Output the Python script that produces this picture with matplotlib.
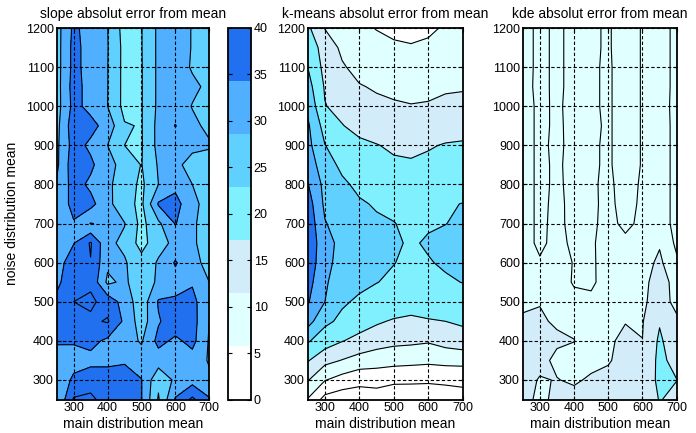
import numpy as np
import matplotlib
matplotlib.use("Agg")
import matplotlib.pyplot as plt
from matplotlib.colors import ListedColormap, Normalize
import matplotlib.colorbar as mcolorbar

plt.rcParams['font.family'] = ['Liberation Sans', 'DejaVu Sans']

# ---------------- data ----------------
main_mean = [250, 300, 350, 400, 450, 500, 550, 600, 650, 700]
noise_mean = list(range(1200, 249, -50))   # rows below are listed top (1200) to bottom (250)

slope_err = [
    [28, 36, 33, 30.1, 23, 24.8, 31, 32, 29.8, 28],
    [28, 36.5, 33, 30.2, 23.5, 24.8, 31, 32, 29.8, 28.5],
    [28, 36.5, 33, 30.1, 23.5, 24.7, 31, 32.5, 29.5, 28.5],
    [28, 37, 33, 30.1, 23.5, 24.7, 31, 33, 31, 29],
    [28, 36.5, 33.5, 30, 23.5, 24.7, 31, 32.5, 29.8, 28.5],
    [28.5, 38, 36.6, 33.1, 25.4, 24.7, 31.5, 35.2, 31, 29],
    [29, 37, 34, 30, 25, 24.6, 31.5, 32, 31, 30.5],
    [29, 38, 36, 31.5, 28.4, 24.8, 30.5, 31, 28.5, 28],
    [30.5, 37, 34, 31, 27.5, 24, 30, 33.5, 30, 28],
    [30.5, 37, 36.5, 31.5, 26.5, 24, 35.5, 37, 31, 28.5],
    [31, 34.5, 29.8, 31, 30.2, 23.5, 29, 35.3, 30.5, 28.5],
    [32, 34.8, 40.5, 31, 29, 23, 28.5, 31, 30.5, 28.5],
    [33, 37.5, 39.8, 31, 30.5, 27, 30.5, 35.5, 31, 29],
    [34, 38, 39, 29, 31, 26.5, 31, 33, 34.5, 30],
    [36, 40, 41, 38, 33, 27, 35.5, 35.8, 36.5, 31],
    [37, 38.5, 39, 40.5, 34, 27.5, 34.5, 38, 37, 30],
    [35.5, 35.5, 36.5, 34, 32, 29.5, 36.5, 34, 36.5, 29.5],
    [33, 33, 33.5, 33.5, 34.5, 32, 32.5, 33.5, 33, 29.5],
    [31, 36, 38, 38, 37, 35.2, 26, 31, 33, 31],
    [30, 40.5, 41, 38, 37, 35.2, 24.5, 35.5, 41, 35.5],
]

kmeans_err = [
    [21, 14.8, 12.5, 11, 9.8, 8.5, 8, 9.2, 10.5, 11],
    [23, 18, 14, 12.5, 11.5, 11, 10.5, 10.8, 12, 12.5],
    [25, 18.5, 15.5, 13.5, 12.5, 12, 11.5, 11.8, 12.8, 13.2],
    [27, 19.5, 17, 15.3, 14.5, 14, 13.5, 13.5, 14.3, 14.5],
    [29, 20.2, 18.5, 17, 16, 15.5, 15.2, 15.5, 16.2, 16.5],
    [30.8, 23, 20.2, 18.5, 17.5, 17, 16.8, 17, 17.8, 18],
    [31.5, 25.1, 22.5, 21, 20.2, 19.2, 19, 19.6, 20.3, 20.6],
    [33, 27, 24, 22.5, 21.5, 20.8, 20.5, 21, 21.8, 22],
    [35.3, 28.5, 25.8, 24, 23, 22.3, 22, 22.3, 23, 23.3],
    [37.5, 29, 26.8, 25.5, 24.6, 24.2, 23.8, 24, 24.6, 25.1],
    [38.5, 30.3, 27.8, 26.5, 25.6, 25.1, 24.3, 24.5, 24.9, 26],
    [39, 31.5, 28.8, 27.5, 26.5, 25.6, 24.5, 25.5, 26.5, 27.3],
    [38.5, 31.2, 28.5, 27, 25.8, 25.1, 24.2, 24.7, 25.6, 26.4],
    [37, 30.6, 27.5, 26, 25.1, 24.3, 23.6, 23.8, 24.4, 25.1],
    [35.5, 30, 25.6, 24.3, 23.2, 22.5, 21.8, 22, 22.3, 22.7],
    [32, 26, 24, 22.3, 20.5, 19.6, 19.2, 19.7, 20, 20.6],
    [25.5, 22.5, 20.2, 18.5, 17.8, 16.3, 16, 15.5, 17, 18.3],
    [20.4, 16.5, 14.8, 13.2, 11.4, 11.6, 11.3, 11, 11.3, 11.1],
    [15.4, 10.25, 8, 6.2, 7.9, 6.3, 6.2, 6, 6.5, 7.4],
    [9.7, 3.3, 2, 2.7, 1, 0.5, 0.5, 0.5, 0.8, 1],
]

kde_err = [
    [10.8, 9.5, 10.4, 9.4, 9.8, 10.15, 9.3, 10.1, 10.8, 9.5],
    [10.8, 9.5, 10.4, 9.4, 9.8, 10.15, 9.3, 10.1, 10.8, 9.5],
    [10.8, 9.5, 10.4, 9.4, 9.8, 10.2, 9.3, 10.1, 10.8, 9.5],
    [10.7, 9.5, 10.4, 9.4, 9.8, 10.2, 9.3, 10.1, 10.8, 9.5],
    [10.8, 9.6, 10.3, 9.4, 9.8, 10.2, 9.3, 10.1, 10.7, 9.5],
    [10.8, 9.6, 10.3, 9.5, 9.7, 10.2, 9.3, 10.1, 10.8, 9.5],
    [10.8, 9.6, 10.4, 9.4, 9.8, 10.2, 9.3, 10.1, 10.8, 9.5],
    [10.8, 9.6, 10.3, 9.4, 9.8, 10.2, 9.3, 10.1, 10.8, 9.5],
    [10.8, 9.6, 10.3, 9.5, 9.8, 10.3, 9.4, 10.2, 10.8, 9.5],
    [10.8, 9.6, 10.4, 9.5, 9.7, 10.4, 9.4, 10.3, 10.8, 9.5],
    [10.8, 9.6, 10.5, 9.4, 9.7, 10.5, 9.6, 10.4, 10.8, 9.5],
    [10.8, 9.6, 10.6, 9.6, 9.8, 10.6, 10.4, 10.8, 11.8, 9.6],
    [10.9, 10.2, 10.8, 9.9, 9.7, 10.8, 10.9, 11.2, 12.4, 10.3],
    [11.1, 10.8, 11, 9.8, 9.6, 11, 11.2, 11.4, 13, 11.2],
    [11.6, 11.9, 11.5, 10.6, 10.5, 11.3, 11.4, 11.7, 12.8, 11.5],
    [12.3, 12.3, 11.7, 11.5, 11.2, 11.4, 11.9, 11.7, 17.5, 12.3],
    [12.8, 12.6, 12.4, 12.05, 11, 11.6, 12.6, 12.05, 19, 14],
    [13, 12.8, 11.4, 11.2, 11.2, 11.8, 12.8, 13, 19.5, 16],
    [13, 11.8, 12.1, 11.6, 12.4, 12.6, 13, 13.5, 19.5, 18.1],
    [13.5, 11, 13, 13, 13, 13.5, 13.5, 14, 18.3, 16.5],
]

titles = ["slope absolut error from mean",
          "k-means absolut error from mean",
          "kde absolut error from mean"]
xlabel = "main distribution mean"
ylabel = "noise distribution mean"
x_ticks = [300, 400, 500, 600, 700]
y_ticks = [300, 400, 500, 600, 700, 800, 900, 1000, 1100, 1200]
cbar_ticks = [0, 5, 10, 15, 20, 25, 30, 35, 40]

levels_main = [0, 5, 10, 15, 20, 25, 30, 35, 40, 45]
levels_kde = [6, 10, 12, 18, 24]

band_colors = ['#ffffff', '#e0ffff', '#d2ecfa', '#80f0ff', '#60d0ff', '#50b0ff', '#2070f0']
CMIN, CMAX = 0, 40


def fill_colors(levels):
    out = []
    for lv in levels[:-1]:
        idx = int(np.floor((lv - CMIN) / (CMAX - CMIN) * len(band_colors)))
        idx = max(0, min(idx, len(band_colors) - 1))
        out.append(band_colors[idx])
    return out


fig = plt.figure(figsize=(6.96, 4.33), dpi=100)
W, H = 696.0, 433.0


def ax_rect(x0, x1, y0=28.0, y1=399.5):
    return [x0 / W, 1 - y1 / H, (x1 - x0) / W, (y1 - y0) / H]


X, Y = np.meshgrid(main_mean, noise_mean)
panels = [
    (slope_err, levels_main, ax_rect(56.7, 209.3)),
    (kmeans_err, levels_main, ax_rect(307.7, 462.7)),
    (kde_err, levels_kde, ax_rect(522.7, 676.7)),
]

for i, (Z, lv, rect) in enumerate(panels):
    ax = fig.add_axes(rect)
    Z = np.array(Z, dtype=float)
    ax.contourf(X, Y, Z, levels=lv, colors=fill_colors(lv))
    ax.contour(X, Y, Z, levels=lv[1:-1], colors='k', linewidths=0.8)
    ax.set_xlim(250, 700)
    ax.set_ylim(250, 1200)
    ax.set_xticks(x_ticks)
    ax.set_yticks(y_ticks)
    ax.grid(True, linestyle=(0, (3, 2)), color='k', linewidth=0.8)
    ax.set_axisbelow(False)
    ax.tick_params(direction='in', top=True, right=True, length=3, labelsize=9, pad=2)
    for s in ax.spines.values():
        s.set_linewidth(1.3)
    ax.set_title(titles[i], fontsize=10, pad=7)
    ax.set_xlabel(xlabel, fontsize=10, labelpad=2)
    if i == 0:
        ax.set_ylabel(ylabel, fontsize=10, labelpad=5)

cax = fig.add_axes(ax_rect(228.0, 251.0))
cb = mcolorbar.ColorbarBase(cax, cmap=ListedColormap(band_colors),
                            norm=Normalize(CMIN, CMAX), ticks=cbar_ticks)
cb.outline.set_linewidth(1.3)
cax.tick_params(direction='in', left=True, right=True, length=3, labelsize=9, pad=2)
cax.yaxis.set_ticks_position('both')
cax.tick_params(labelleft=False, labelright=True)

fig.savefig("out.png", dpi=100)
